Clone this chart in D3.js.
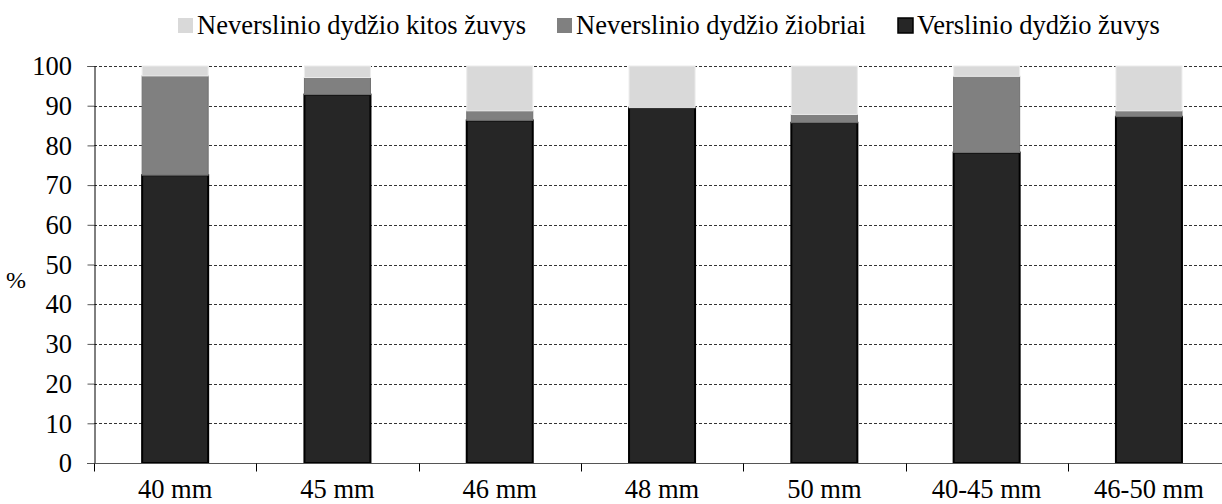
<!DOCTYPE html>
<html><head><meta charset="utf-8">
<script src="https://cdn.jsdelivr.net/npm/d3@7"></script>
<style>body{margin:0;background:#fff}svg{display:block}</style>
</head><body><svg id="c" width="1222" height="504"></svg>
<script>
const categories = ["40 mm","45 mm","46 mm","48 mm","50 mm","40-45 mm","46-50 mm"];
const commercial = [72.5, 92.8, 86.3, 89.5, 85.7, 78.2, 87.2];
const bream = [25.0, 4.3, 2.4, 0.0, 2.1, 19.2, 1.5];
const otherFish = [2.5, 2.9, 11.3, 10.5, 12.2, 2.6, 11.3];
const seriesNames = ["Verslinio dydžio žuvys","Neverslinio dydžio žiobriai","Neverslinio dydžio kitos žuvys"];
const yTicks = [0,10,20,30,40,50,60,70,80,90,100];

const FONT = '"Liberation Serif"';
const FS = "26.5px";
const svg = d3.select("#c");
const m = {left:94, top:66, bottom:463};
const plotW = 162.3*7;
const x = d3.scaleBand().domain(categories).range([m.left, m.left+plotW]).paddingInner(0.587).paddingOuter(0.2935);
const xb = d3.scaleBand().domain(categories).range([m.left, m.left+plotW]);
const y = d3.scaleLinear().domain([0,100]).range([m.bottom, m.top]);

// gridlines
svg.append("g").selectAll("line").data(yTicks.filter(d=>d>0)).join("line")
  .attr("x1", m.left).attr("x2", m.left+plotW)
  .attr("y1", d=>Math.round(y(d))+0.5).attr("y2", d=>Math.round(y(d))+0.5)
  .attr("stroke","#333").attr("stroke-width",1).attr("stroke-dasharray","3,2");

const data = categories.map((c,i)=>({cat:c, vals:[commercial[i], bream[i], otherFish[i]]}));
const colors = ["#262626","#808080","#d9d9d9"];
const strokes = ["#000","#707070","#ececec"];
const stack = d3.stack().keys([0,1,2]).value((d,k)=>d.vals[k]);
const layers = stack(data);
layers.forEach((layer,k)=>{
  svg.append("g").selectAll("rect").data(layer.filter(d=>d[1]-d[0]>0)).join("rect")
    .attr("x", d=>x(d.data.cat)+0.5)
    .attr("width", x.bandwidth()-1)
    .attr("y", d=>y(Math.min(d[1],100)))
    .attr("height", d=>y(d[0])-y(Math.min(d[1],100)))
    .attr("fill", colors[k]).attr("stroke", strokes[k]).attr("stroke-width", k===0?2:1);
});

// y axis
const yAxis = svg.append("g").attr("transform",`translate(${m.left+0.5},0)`)
  .call(d3.axisLeft(y).tickValues(yTicks).tickSize(7).tickPadding(6).tickFormat(d3.format("d")));
yAxis.attr("font-family", null).attr("font-size", null);
yAxis.select(".domain").attr("stroke","#000");
yAxis.selectAll(".tick line").attr("stroke","#555");
yAxis.selectAll("text").style("font-size",FS).style("font-family",FONT).attr("fill","#000").attr("dy","0.33em").attr("x",-22.5);

// x axis
const xAxis = svg.append("g").attr("transform",`translate(0,${m.bottom+0.5})`);
xAxis.append("line").attr("x1",m.left-7).attr("x2",m.left+plotW).attr("stroke","#555");
xAxis.selectAll("line.t").data(d3.range(categories.length+1)).join("line").attr("class","t")
  .attr("x1",i=>Math.round(m.left+i*xb.step())+0.5).attr("x2",i=>Math.round(m.left+i*xb.step())+0.5)
  .attr("y1",0).attr("y2",8).attr("stroke","#000");
xAxis.selectAll("text").data(categories).join("text")
  .attr("x", d=>xb(d)+xb.bandwidth()/2).attr("y", 34.5)
  .attr("text-anchor","middle").style("font-size",FS).style("font-family",FONT).text(d=>d);

// y label
svg.append("text").attr("x",16).attr("y",288).attr("text-anchor","middle")
  .style("font-size","24px").style("font-family",FONT).text("%");

// legend
const legend = [
  {name:seriesNames[2], color:colors[2], x:178},
  {name:seriesNames[1], color:colors[1], x:557},
  {name:seriesNames[0], color:colors[0], x:898}
];
const lg = svg.append("g");
lg.selectAll("rect").data(legend).join("rect")
  .attr("x",d=>d.x).attr("y",18).attr("width",15).attr("height",15)
  .attr("fill",d=>d.color).attr("stroke",(d,i)=>i===2?"#000":"none").attr("stroke-width",1.5);
lg.selectAll("text").data(legend).join("text")
  .attr("x",d=>d.x+19).attr("y",34).style("font-size",FS).style("font-family",FONT).text(d=>d.name);
</script></body></html>
